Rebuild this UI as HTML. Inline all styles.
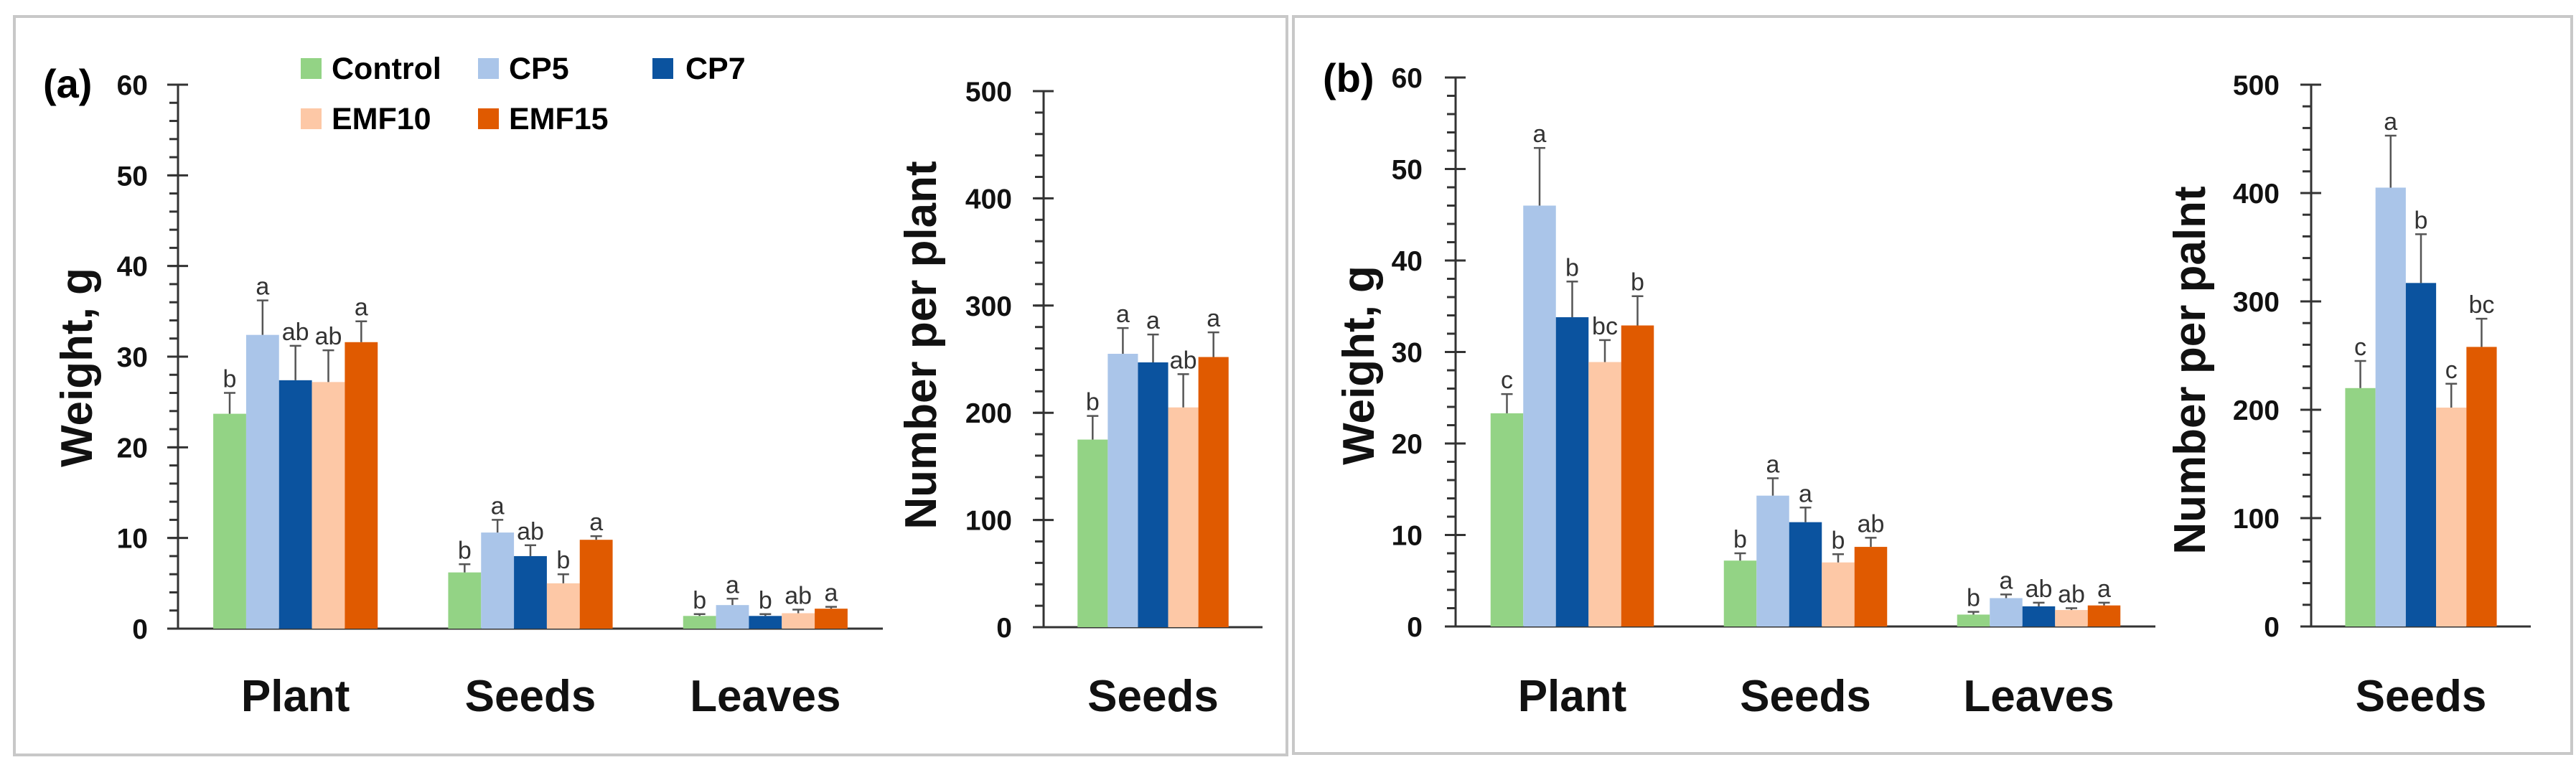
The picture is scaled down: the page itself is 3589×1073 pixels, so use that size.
<!DOCTYPE html>
<html><head><meta charset="utf-8"><style>
html,body{margin:0;padding:0;background:#fff;}
svg{display:block;font-family:"Liberation Sans",sans-serif;}
</style></head><body>
<svg id="fig" width="3589" height="1073" viewBox="0 0 3589 1073" xmlns="http://www.w3.org/2000/svg">
<rect x="20" y="23" width="1773" height="1029" fill="none" stroke="#c8c8c8" stroke-width="4"/>
<rect x="1802" y="23" width="1781" height="1027" fill="none" stroke="#c8c8c8" stroke-width="4"/>
<text x="60" y="136" font-size="56" font-weight="bold">(a)</text>
<text x="1843" y="128" font-size="56" font-weight="bold">(b)</text>
<g>
<rect x="419" y="81" width="29" height="29" fill="#93d385"/>
<text x="462" y="110" font-size="43" font-weight="bold">Control</text>
<rect x="666" y="81" width="29" height="29" fill="#aac5e9"/>
<text x="709" y="110" font-size="43" font-weight="bold">CP5</text>
<rect x="909" y="81" width="29" height="29" fill="#0b539f"/>
<text x="955" y="110" font-size="43" font-weight="bold">CP7</text>
<rect x="419" y="151" width="29" height="29" fill="#fdc8a6"/>
<text x="462" y="180" font-size="43" font-weight="bold">EMF10</text>
<rect x="666" y="151" width="29" height="29" fill="#e05a00"/>
<text x="709" y="180" font-size="43" font-weight="bold">EMF15</text>
</g>
</svg>
<script>
const colors = ["#93d385","#aac5e9","#0b539f","#fdc8a6","#e05a00"];
const seriesNames = ["Control","CP5","CP7","EMF10","EMF15"];
const weightCats = ["Plant","Seeds","Leaves"];
const numberCats = ["Seeds"];
// Panel (a) weight
const aWeightVals = [[23.7,32.4,27.4,27.2,31.6],[6.2,10.6,8.0,5.0,9.8],[1.4,2.6,1.4,1.7,2.2]];
const aWeightErr  = [[26.0,36.2,31.2,30.7,33.9],[7.1,12.0,9.2,6.0,10.2],[1.6,3.3,1.6,2.1,2.4]];
const aWeightLet  = [["b","a","ab","ab","a"],["b","a","ab","b","a"],["b","a","b","ab","a"]];
// Panel (a) number
const aNumVals = [[175,255,247,205,252]];
const aNumErr  = [[197,279,273,236,275]];
const aNumLet  = [["b","a","a","ab","a"]];
// Panel (b) weight
const bWeightVals = [[23.3,46.0,33.8,28.9,32.9],[7.2,14.3,11.4,7.0,8.7],[1.3,3.1,2.2,1.8,2.3]];
const bWeightErr  = [[25.4,52.3,37.7,31.3,36.1],[8.0,16.2,13.0,7.9,9.7],[1.6,3.5,2.6,2.0,2.6]];
const bWeightLet  = [["c","a","b","bc","b"],["b","a","a","b","ab"],["b","a","ab","ab","a"]];
// Panel (b) number
const bNumVals = [[220,405,317,202,258]];
const bNumErr  = [[245,453,362,224,284]];
const bNumLet  = [["c","a","b","c","bc"]];
const weightTicks = [0,10,20,30,40,50,60];
const numberTicks = [0,100,200,300,400,500];

const svg = document.getElementById('fig');
const NS = "http://www.w3.org/2000/svg";
function mk(tag, attrs, parent){
  const e = document.createElementNS(NS, tag);
  for (const k in attrs) e.setAttribute(k, attrs[k]);
  (parent||svg).appendChild(e);
  return e;
}
function chart(cfg){
  const g = mk('g', {});
  
  
  const ymax = cfg.ticks[cfg.ticks.length-1];
  const y = v => cfg.y0 - (v/ymax)*(cfg.y0 - cfg.ytop);
  const bandW = (cfg.xend - cfg.x0) / cfg.cats.length;
  const bandX = i => cfg.x0 + bandW*i;
  // minor ticks
  for (let v = 0; v <= ymax + 1e-9; v += cfg.minor) {
    const t = mk('line', {x1:cfg.x0-12, x2:cfg.x0, y1:y(v), y2:y(v), stroke:'#333', 'stroke-width':3}, g);
    
    
  }
  cfg.ticks.forEach(v => {
    const t = mk('line', {x1:cfg.x0-15, x2:cfg.x0+14, y1:y(v), y2:y(v), stroke:'#333', 'stroke-width':3}, g);
    
    
    const lb = mk('text', {x:cfg.labelRight, y:y(v)+14, 'font-size':39, 'font-weight':'bold', 'text-anchor':'end', fill:'#111'}, g);
    lb.textContent = v;
    
    
  });
  const ax = mk('line', {x1:cfg.x0, x2:cfg.x0, y1:cfg.ytop, y2:cfg.y0, stroke:'#333', 'stroke-width':3}, g);
  
  
  const xl = mk('line', {x1:cfg.x0, x2:cfg.xend, y1:cfg.y0, y2:cfg.y0, stroke:'#333', 'stroke-width':3}, g);
  
  
  const bw = bandW*cfg.barFrac;
  cfg.cats.forEach((c, ci) => {
    const cx = bandX(ci) + bandW/2;
    const start = cx - bw*2.5;
    cfg.vals[ci].forEach((v, si) => {
      const bx = start + bw*si;
      const r = mk('rect', {x:bx, y:y(v), width:bw, height:cfg.y0 - y(v), fill:colors[si]}, g);
      
      
      const ex = bx + bw/2, et = y(cfg.err[ci][si]);
      const el = mk('line', {x1:ex, x2:ex, y1:y(v), y2:et, stroke:'#555', 'stroke-width':2.5}, g);
      
      
      const ec = mk('line', {x1:ex-8, x2:ex+8, y1:et, y2:et, stroke:'#555', 'stroke-width':2.5}, g);
      
      
      const lt = mk('text', {x:ex, y:et-8, 'font-size':34, 'text-anchor':'middle', fill:'#333'}, g);
      lt.textContent = cfg.lets[ci][si];
      
      
    });
    const cl = mk('text', {x:cx, y:991, 'font-size':62, 'font-weight':'bold', 'text-anchor':'middle', fill:'#111'}, g);
    cl.textContent = c;
    
    
  });
  const tt = mk('text', {x:0, y:0, 'font-size':62, 'font-weight':'bold', 'text-anchor':'middle', fill:'#111',
    transform:'translate(' + cfg.titleX + ',' + cfg.titleY + ') rotate(-90)'}, g);
  tt.textContent = cfg.title;
  
  
}
chart({name:'panel-a-weight-chart', x0:248, xend:1230, y0:876, ytop:118, ticks:weightTicks, minor:2, labelRight:206,
  cats:weightCats, vals:aWeightVals, err:aWeightErr, lets:aWeightLet, barFrac:0.14, title:'Weight, g', titleX:128, titleY:512});
chart({name:'panel-a-number-chart', x0:1454, xend:1759, y0:874, ytop:127, ticks:numberTicks, minor:20, labelRight:1410,
  cats:numberCats, vals:aNumVals, err:aNumErr, lets:aNumLet, barFrac:0.138, title:'Number per plant', titleX:1304, titleY:481});
chart({name:'panel-b-weight-chart', x0:2028, xend:3003, y0:873, ytop:108, ticks:weightTicks, minor:2, labelRight:1982,
  cats:weightCats, vals:bWeightVals, err:bWeightErr, lets:bWeightLet, barFrac:0.14, title:'Weight, g', titleX:1914, titleY:509});
chart({name:'panel-b-number-chart', x0:3220, xend:3526, y0:873, ytop:118, ticks:numberTicks, minor:20, labelRight:3176,
  cats:numberCats, vals:bNumVals, err:bNumErr, lets:bNumLet, barFrac:0.138, title:'Number per palnt', titleX:3072, titleY:516});
</script>
</body></html>
